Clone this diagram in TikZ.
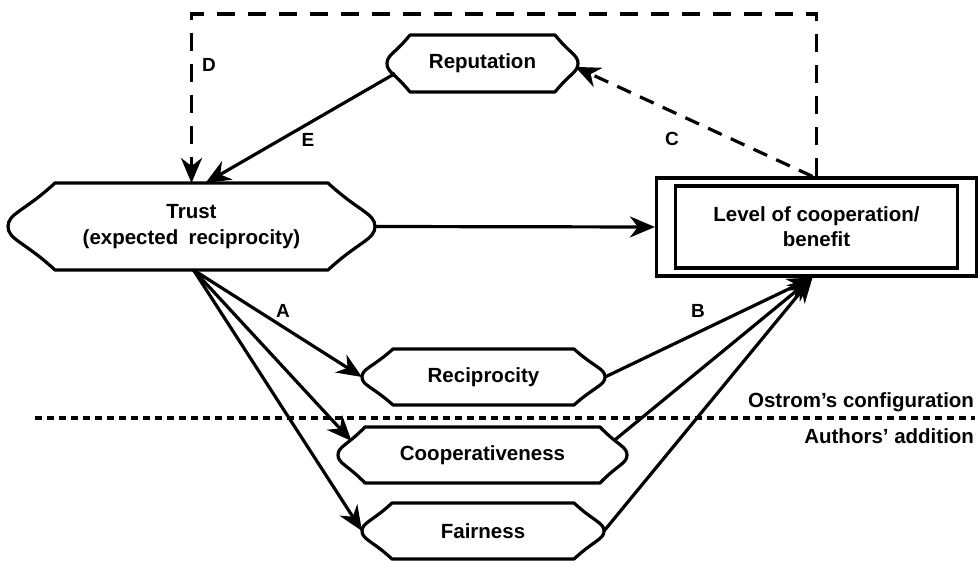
\documentclass[tikz,border=0pt]{standalone}
\usepackage{fontspec}
\setmainfont{Liberation Sans}
\usetikzlibrary{arrows.meta,calc}
\newcommand{\hexo}[2]{\draw[outl]
  ([xshift=#2]#1.north west) -- ([xshift=-#2]#1.north east)
  .. controls ($([xshift=-#2]#1.north east)!0.65!(#1.east)$) and ($(#1.east)!0.3!(#1.north east)$) .. (#1.east)
  .. controls ($(#1.east)!0.3!(#1.south east)$) and ($([xshift=-#2]#1.south east)!0.65!(#1.east)$) .. ([xshift=-#2]#1.south east)
  -- ([xshift=#2]#1.south west)
  .. controls ($([xshift=#2]#1.south west)!0.65!(#1.west)$) and ($(#1.west)!0.3!(#1.south west)$) .. (#1.west)
  .. controls ($(#1.west)!0.3!(#1.north west)$) and ($([xshift=#2]#1.north west)!0.65!(#1.west)$) .. ([xshift=#2]#1.north west)
  -- cycle;}
\begin{document}
\begin{tikzpicture}[x=1pt,y=-1pt,
  txt/.style={font=\bfseries\fontsize{20.5}{26}\selectfont, align=center, inner sep=0pt, outer sep=0pt},
  lbl/.style={font=\bfseries\fontsize{19}{22}\selectfont, inner sep=0pt},
  outl/.style={line width=3.2pt, line join=round},
  conn/.style={line width=3.2pt, -{Stealth[length=25pt,width=21pt,inset=8pt]}},
  dashconn/.style={conn, dash pattern=on 18pt off 13pt},
  cdash/.style={conn, dash pattern=on 15pt off 10pt},
  dotl/.style={line width=3.2pt, dash pattern=on 7pt off 5pt}]
\useasboundingbox (0,0) rectangle (980,561);

% nodes
\node[txt, minimum width=191pt, minimum height=57pt] (Rep) at (482.5,63.5) {Reputation};
\node[txt, minimum width=367pt, minimum height=87pt] (Trust) at (191.5,226.5) {Trust\\(expected\hspace{0.5em}reciprocity)};
\node[txt, minimum width=243pt, minimum height=56pt] (Rec) at (483.5,377) {Reciprocity};
\node[txt, minimum width=289pt, minimum height=56pt] (Coop) at (482.5,455) {Cooperativeness};
\node[txt, minimum width=242pt, minimum height=56pt] (Fair) at (483,531) {Fairness};
\node[draw, line width=3.2pt, minimum width=320pt, minimum height=98pt, inner sep=0pt] (L) at (816.5,227) {};
\node[draw, line width=3.2pt, txt, minimum width=282pt, minimum height=82pt, align=center] (Li) at (816.5,227) {Level of cooperation/\\[-1pt]benefit};

\hexo{Rep}{23pt}
\hexo{Trust}{47pt}
\hexo{Rec}{31pt}
\hexo{Coop}{27pt}
\hexo{Fair}{30pt}

% helper coordinates
\coordinate (Dc) at (191.5,14);
\coordinate (Trin) at ([xshift=14pt]Trust.north);
\coordinate (Trout) at ([xshift=2pt]Trust.south);
\coordinate (Repout) at ($(Rep.west)!0.35!([xshift=23pt]Rep.south west)$);
\coordinate (Repin) at ($(Rep.east)!0.12!([xshift=-23pt]Rep.south east)$);
\coordinate (Cstart) at ([xshift=-4pt]L.north);
\coordinate (Coopin) at ($(Coop.west)!0.5!([xshift=27pt]Coop.north west)$);
\coordinate (Coopout) at ($(Coop.east)!0.5!([xshift=-27pt]Coop.north east)$);
\coordinate (Lin) at ([xshift=-4pt]L.south);
\coordinate (DL1) at (35,418);
\coordinate (DL2) at (975,418);

% connectors
\draw[dashconn] (L.north) |- (Dc) -- (Trust.north);
\draw[conn] (Repout) -- (Trin);
\draw[cdash] (Cstart) -- (Repin);
\draw[conn] (Trust.east) -- (L.west);
\draw[conn] (Trout) -- (Rec.west);
\draw[conn] (Trout) -- (Coopin);
\draw[conn] (Trout) -- (Fair.west);
\draw[conn] (Rec.east) -- (Lin);
\draw[conn] (Coopout) -- (Lin);
\draw[conn] (Fair.east) -- (Lin);
\draw[dotl] (DL1) -- (DL2);

% labels
\node[lbl] (lA) at (283,311) {A};
\node[lbl] (lB) at (698,311) {B};
\node[lbl] (lC) at (672,139) {C};
\node[lbl] (lD) at (209,65) {D};
\node[lbl] (lE) at (308,140) {E};
\node[txt, anchor=east] (ostrom) at (974,402) {Ostrom’s configuration};
\node[txt, anchor=east] (authors) at (974,436) {Authors’ addition};
\end{tikzpicture}
\end{document}
